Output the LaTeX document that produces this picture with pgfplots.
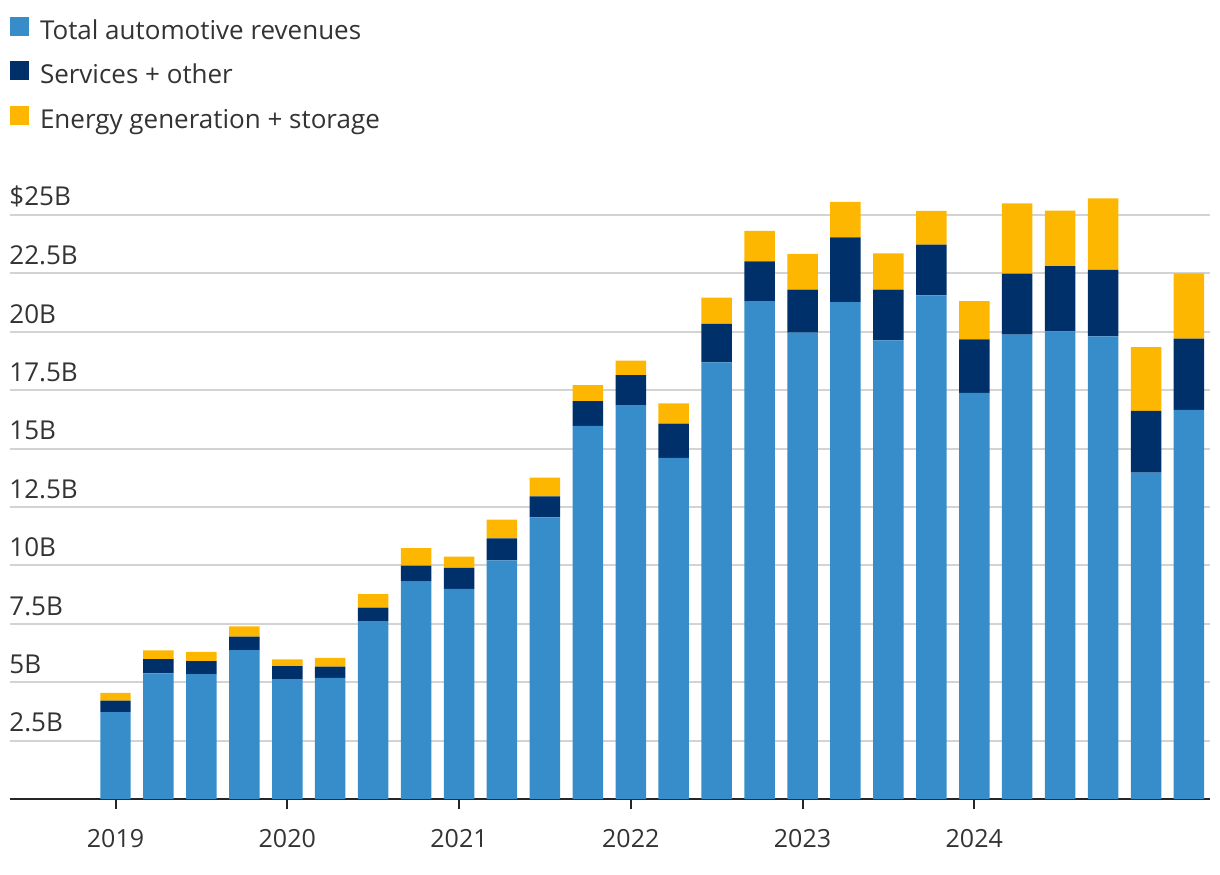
\documentclass[border=0pt]{standalone}
\usepackage{fontspec}
\setmainfont{Open Sans}
\usepackage{pgfplots}
\usepackage{pgfplotstable}
\pgfplotsset{compat=1.18}

\definecolor{autoblue}{HTML}{368DCA}
\definecolor{svcnavy}{HTML}{003069}
\definecolor{energyyellow}{HTML}{FDB700}
\definecolor{gridgray}{HTML}{D3D3D3}
\definecolor{txt}{HTML}{333333}

% quarterly revenue, $B (Q1 2019 .. Q2 2025)
\pgfplotstableread{
q  auto  svc  energy
0  3.72  0.49 0.33
1  5.38  0.61 0.37
2  5.35  0.55 0.40
3  6.37  0.58 0.44
4  5.13  0.56 0.29
5  5.18  0.49 0.37
6  7.61  0.58 0.58
7  9.31  0.68 0.75
8  9.00  0.89 0.49
9  10.21 0.95 0.80
10 12.06 0.89 0.81
11 15.97 1.06 0.69
12 16.86 1.28 0.62
13 14.60 1.47 0.87
14 18.69 1.65 1.12
15 21.31 1.70 1.31
16 19.96 1.84 1.53
17 21.27 2.77 1.52
18 19.63 2.17 1.56
19 21.56 2.17 1.44
20 17.38 2.29 1.64
21 19.88 2.61 3.01
22 20.02 2.79 2.38
23 19.80 2.85 3.06
24 13.97 2.64 2.73
25 16.66 3.05 2.79
}\revenue

\begin{document}
\begin{tikzpicture}
\useasboundingbox (0,0) rectangle (610pt,437pt);
\begin{axis}[
  at={(5pt,37.5pt)}, anchor=south west,
  scale only axis, width=600pt, height=303.7pt,
  xmin=-2.457, xmax=25.49, ymin=0, ymax=26,
  ybar stacked, bar width=0.71,
  axis x line=bottom, axis y line=left,
  axis line style={-},
  x axis line style={line width=1pt, color=black!85},
  y axis line style={draw=none},
  ytick={0,2.5,...,25},
  yticklabels={,2.5B,5B,7.5B,10B,12.5B,15B,17.5B,20B,22.5B,\$25B},
  ytick style={draw=none},
  ymajorgrids, grid style={gridgray, line width=1pt},
  yticklabel style={anchor=south west, inner sep=0pt, xshift=4.5pt, yshift=4pt,
    font=\fontsize{13}{15}\selectfont, text=txt},
  xtick={0,4,...,20},
  xticklabels={2019,2020,2021,2022,2023,2024},
  xtick style={color=black!85, line width=1pt},
  tick align=outside, major tick length=5pt,
  xticklabel style={inner sep=0pt, yshift=-10pt,
    font=\fontsize{12.5}{14}\selectfont, text=txt},
  legend style={at={(0,1.2875)}, anchor=north west, draw=none, fill=none,
    inner sep=0pt, outer sep=0pt,
    font=\fontsize{13}{15}\selectfont, text=txt,
    nodes={inner sep=0pt, text height=9pt, text depth=2.5pt},
    row sep=8.5pt, column sep=5.5pt},
  legend cell align=left,
  legend image code/.code={\fill[#1] (0pt,-1.5pt) rectangle (9.5pt,8pt);},
]
\addplot[fill=autoblue, draw=none] table[x=q, y=auto] {\revenue};
\addplot[fill=svcnavy, draw=none] table[x=q, y=svc] {\revenue};
\addplot[fill=energyyellow, draw=none] table[x=q, y=energy] {\revenue};
\legend{Total automotive revenues, Services + other, Energy generation + storage}
\end{axis}
\end{tikzpicture}
\end{document}
